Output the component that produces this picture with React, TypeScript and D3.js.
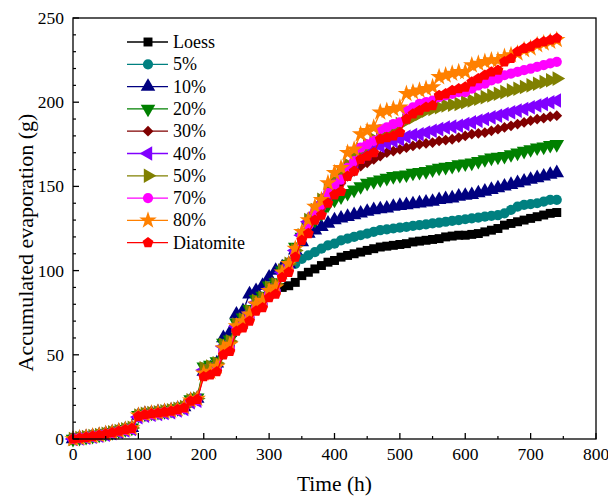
import React from 'react';
import * as d3 from 'd3';

const times = [0,10,20,30,40,50,60,70,80,90,100,110,120,130,140,150,160,170,180,190,200,210,220,230,240,250,260,270,280,290,300,310,320,330,340,350,360,370,380,390,400,410,420,430,440,450,460,470,480,490,500,510,520,530,540,550,560,570,580,590,600,610,620,630,640,650,660,670,680,690,700,710,720,730,740];

const loess = [0,0.5,1,1.6,2.2,3,3.8,4.7,5.6,6.4,
 13.6,14.6,15.1,15.6,16.1,16.6,17.6,18.6,22.6,23.6,
 39,40,42,53,55,66,68,72,78,80,
 86,88,90,91,93,97,99,101,103,105,
 106,108,109,110,111,112,113,114,114.5,115,
 115.5,116,117,117.5,118,118.5,119,120,120.5,121,
 121,121.5,122,123,124,125,127,128,129,130,
 131,132,133,134,134.5];

const p5 = [0,0.5,1,1.6,2.2,3,3.8,4.7,5.6,6.4,
 13.6,14.6,15.1,15.6,16.1,16.6,17.6,18.6,22.6,23.6,
 39,40,42,53,55,66,68,72,78,80,
 86,88,98,101,104,107,109,111,113,115,
 116,118,119,120,121,122,123,124,124.5,125,
 125.5,126,126.5,127,127.5,128,128.5,129,129.5,130,
 130.5,131,131.5,132,132.5,133,134,136,138,139,
 139.5,140,141,142,142];

const p10 = [0,0.6,1.1,1.7,2.3,3.1,3.9,4.8,5.7,6.6,
 14,14.9,15.4,15.9,16.4,17,18,19,23,24,
 40,42,45,60,63,74,76,86,88,91,
 96,100,102,104,112,117,122,124,126,128,
 130,131,132,133,134,135,136,136.5,137,138,
 138.5,139,139.5,140,140.5,141,142,142.5,143,144,
 144.5,145,146,147,148,149,150,151,152,153,
 154,155,156,157,158];

const p20 = [0,0.6,1.1,1.7,2.4,3.2,4,4.9,5.8,6.7,
 14.2,15,15.5,16,16.5,17.2,18.2,19.2,23.5,24.5,
 43,44,46,57,59,69,72,77,83,85,
 91,93,100,104,114,120,126,130,134,139,
 142,144,146,148,150,152,153,154,155,156,
 156.5,157,158,158.5,159,160,161,161.5,162,163,
 163.5,164,165,166,167,167.5,168,169,170,171,
 172,173,173.5,174.5,175];

const p30 = [0,0.5,1,1.6,2.2,3,3.8,4.7,5.6,6.4,
 13.6,14.6,15.1,15.6,16.1,16.6,17.6,18.6,22.6,23.6,
 41,42,44,55,57,68,70,75,81,83,
 89,91,99,103,112,120,128,133,138,143,
 148,152,156,159,162,164,166,168,170,171,
 172,173,174,175,175.5,176,177,177.5,178,179,
 180,181,181.5,182,183,184,185,186,187,188,
 189,190,190.5,191.5,192];

const p40 = [0,0.3,0.8,1.3,1.9,2.6,3.4,4.2,5.1,5.9,
 13,13.9,14.4,14.9,15.4,15.9,16.9,17.9,21.8,22.8,
 41,42,44,55,57,67,70,75,81,83,
 89,91,99,103,112,121,129,134,140,145,
 150,155,160,164,168,170,172,174,175.5,177,
 178,179.5,180.5,181,182,183,184,185,185.5,186,
 187,188,189,190,191,192,193,194,195,196,
 197,198,199,200,201];

const p50 = [0,0.6,1.1,1.7,2.3,3.1,4,4.8,5.7,6.6,
 14,14.9,15.4,15.9,16.4,17,18,19,23,24,
 42,43,45,56,58,68,71,76,82,84,
 90,92,100,104,112,121,130,136,142,148,
 153,158,163,168,172,175,178,181,183,185,
 187,189,191,193,195,196,197,198,198.5,199,
 200,201,202,203,204,205,206,207,208,209,
 210,211,212,213,214];

const p70 = [0,0.5,1,1.5,2.1,2.9,3.7,4.5,5.4,6.2,
 13.4,14.3,14.8,15.3,15.8,16.4,17.3,18.3,22.3,23.3,
 38,39,41,52,54,65,68,72,78,80,
 86,88,97,101,110,121,127,135,139,146,
 151,154,161,165,173,175,177,184,185,187,
 188,195,197,199,200,201,203,204,205,206,
 206,208,210,211,213,214,216,217,218,219,
 220,221,222,223,224];

const p80 = [0,0.6,1.1,1.7,2.3,3.1,3.9,4.8,5.7,6.5,
 14,14.8,15.3,15.8,16.3,16.9,17.8,19,23,24,
 39,40,43,54,56,67,70,74,80,82,
 88,90,99,104,113,123,130,138,142,152,
 158,161,170,172,181,183,185,194,195,196,
 197,205,206,207,208,209,215,216,217,218,
 218,222,223,224,225,225,227,228,229,231,
 232,234,235,236,237];

const diatomite = [0,0.5,1,1.6,2.2,3,3.8,4.6,5.5,6.3,
 13.5,14.5,15,15.5,16,16.5,17.5,18.5,22.5,23.5,
 37,38,40,50,52,64,66,70,76,78,
 84,86,96,99,108,118,122,130,133,140,
 145,147,156,159,166,168,170,178,179,180,
 182,190,193,195,197,198,204,205,207,208,
 209,212,214,216,218,219,224,226,230,232,
 233,235,236,237,238];

const seriesNames = ['Loess', '5%', '10%', '20%', '30%', '40%', '50%', '70%', '80%', 'Diatomite'];
const seriesValues = [loess, p5, p10, p20, p30, p40, p50, p70, p80, diatomite];
const seriesColors = ['#000000', '#008080', '#000080', '#008000', '#800000', '#8000ff', '#808000', '#ff00ff', '#ff8000', '#ff0000'];
const seriesShapes = ['square', 'circle', 'up', 'down', 'diamond', 'left', 'right', 'circle', 'star', 'pentagon'];

const xTicks = [0, 100, 200, 300, 400, 500, 600, 700, 800];
const yTicks = [0, 50, 100, 150, 200, 250];

function markerPath(shape: string): string {
  if (shape === 'square') return d3.symbol().type(d3.symbolSquare).size(80)() as string;
  if (shape === 'circle') return d3.symbol().type(d3.symbolCircle).size(82)() as string;
  if (shape === 'diamond') return d3.symbol().type(d3.symbolSquare).size(58)() as string;
  if (shape === 'star') return d3.symbol().type(d3.symbolStar).size(95)() as string;
  if (shape === 'pentagon') {
    const r = 5.7;
    const pts = d3.range(5).map(i => {
      const a = -Math.PI / 2 + (i * 2 * Math.PI) / 5;
      return [r * Math.cos(a), r * Math.sin(a)];
    });
    return 'M' + pts.map(p => p[0].toFixed(2) + ',' + p[1].toFixed(2)).join('L') + 'Z';
  }
  return d3.symbol().type(d3.symbolTriangle).size(92)() as string;
}

function markerRotate(shape: string): number {
  if (shape === 'down') return 180;
  if (shape === 'left') return -90;
  if (shape === 'right') return 90;
  if (shape === 'diamond') return 45;
  return 0;
}

const FONT = '"Liberation Serif", "Times New Roman", Times, serif';

export default function App() {
  const W = 608, H = 502;
  const left = 73, right = 596, top = 18, bottom = 439;
  const x = d3.scaleLinear().domain([0, 800]).range([left, right]);
  const y = d3.scaleLinear().domain([0, 250]).range([bottom, top]);
  const line = d3.line<number>().x((_, i) => x(times[i])).y(v => y(v));

  const xMinor = d3.range(0, 801, 50).filter(v => v % 100 !== 0);
  const yMinor = d3.range(0, 251, 10).filter(v => v % 50 !== 0);

  const legendY0 = 42, legendStep = 22.3;
  const ts = { fontFamily: FONT };

  return (
    <svg width={W} height={H} style={{ position: 'absolute', left: 0, top: 0, background: '#fff', fontFamily: FONT }}>
      <rect x={0} y={0} width={W} height={H} fill="#fff" />
      {seriesValues.map((vals, si) => {
        const mp = markerPath(seriesShapes[si]);
        const rot = markerRotate(seriesShapes[si]);
        return (
          <g key={si}>
            <path d={line(vals) as string} fill="none" stroke={seriesColors[si]} strokeWidth={1.3} />
            {vals.map((v, i) => (
              <path key={i} d={mp} fill={seriesColors[si]}
                transform={`translate(${x(times[i])},${y(v)}) rotate(${rot})`} />
            ))}
          </g>
        );
      })}
      <rect x={left} y={top} width={right - left} height={bottom - top} fill="none" stroke="#000" strokeWidth={1.3} />
      {xTicks.map(t => (
        <g key={'xt' + t}>
          <line x1={x(t)} x2={x(t)} y1={bottom} y2={bottom - 6} stroke="#000" strokeWidth={1.3} />
          <text x={x(t)} y={bottom + 21} textAnchor="middle" fontSize={17.5} style={ts}>{t}</text>
        </g>
      ))}
      {xMinor.map(t => (
        <line key={'xm' + t} x1={x(t)} x2={x(t)} y1={bottom} y2={bottom - 3} stroke="#000" strokeWidth={1.2} />
      ))}
      {yTicks.map(t => (
        <g key={'yt' + t}>
          <line x1={left} x2={left + 6} y1={y(t)} y2={y(t)} stroke="#000" strokeWidth={1.3} />
          <text x={left - 9} y={y(t) + 6} textAnchor="end" fontSize={17.5} style={ts}>{t}</text>
        </g>
      ))}
      {yMinor.map(t => (
        <line key={'ym' + t} x1={left} x2={left + 3} y1={y(t)} y2={y(t)} stroke="#000" strokeWidth={1.2} />
      ))}
      <text x={(left + right) / 2} y={491} textAnchor="middle" fontSize={21.5} style={ts}>Time (h)</text>
      <text transform={`translate(33,${(top + bottom) / 2 + 14}) rotate(-90)`} textAnchor="middle" fontSize={22} style={ts}>Accumulated evaporation (g)</text>
      {seriesNames.map((name, si) => {
        const ly = legendY0 + si * legendStep;
        const mp = markerPath(seriesShapes[si]);
        const rot = markerRotate(seriesShapes[si]);
        return (
          <g key={'lg' + si}>
            <line x1={127} x2={168} y1={ly} y2={ly} stroke={seriesColors[si]} strokeWidth={1.3} />
            <path d={mp} fill={seriesColors[si]} transform={`translate(148,${ly}) rotate(${rot})`} />
            <text x={173} y={ly + 6} fontSize={18} style={ts}>{name}</text>
          </g>
        );
      })}
    </svg>
  );
}
